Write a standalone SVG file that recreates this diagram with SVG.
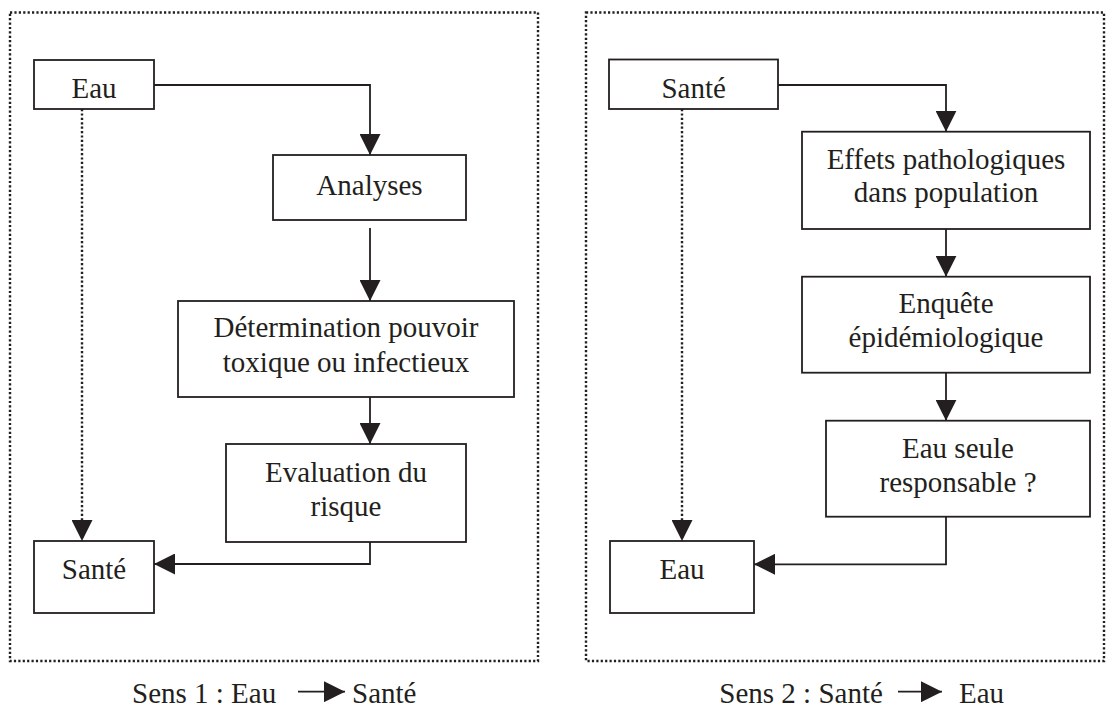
<svg xmlns="http://www.w3.org/2000/svg" width="1106" height="707" viewBox="0 0 1106 707">
<style>
.frame{fill:none;stroke:#231f20;stroke-width:2.4;stroke-dasharray:2.2 2.2}
.box{fill:#fff;stroke:#231f20;stroke-width:1.8}
.t{font-family:"Liberation Serif","Times New Roman",serif;font-size:29px;fill:#231f20;text-anchor:middle}
.tl{font-family:"Liberation Serif","Times New Roman",serif;font-size:29px;fill:#231f20}
.c{fill:none;stroke:#231f20;stroke-width:1.8}
.d{fill:none;stroke:#231f20;stroke-width:2.4;stroke-dasharray:2.2 2.2}
</style>
<defs>
<marker id="ah" markerUnits="userSpaceOnUse" markerWidth="21" markerHeight="21" refX="20" refY="10" orient="auto" viewBox="0 0 20 20">
<path d="M0,0 L20,10 L0,20 z" fill="#231f20"/>
</marker>
</defs>
<g id="frames">
<rect class="frame" x="10" y="12.5" width="528" height="648.5"/>
<rect class="frame" x="586" y="12.5" width="518" height="648.5"/>
</g>
<g id="connectors">
<path class="c" d="M154,85 H370 V155" marker-end="url(#ah)"/>
<path class="c" d="M370,228 V301" marker-end="url(#ah)"/>
<path class="c" d="M370,397 V444" marker-end="url(#ah)"/>
<path class="c" d="M370,542 V564 H154" marker-end="url(#ah)"/>
<path class="d" d="M82,109 V541" marker-end="url(#ah)"/>
<path class="c" d="M778,85 H946 V131.7" marker-end="url(#ah)"/>
<path class="c" d="M946,229 V276.7" marker-end="url(#ah)"/>
<path class="c" d="M946,372.7 V420.7" marker-end="url(#ah)"/>
<path class="c" d="M946,516.7 V564.3 H754" marker-end="url(#ah)"/>
<path class="d" d="M682,109 V541" marker-end="url(#ah)"/>
<path class="c" d="M298,691.7 H345" marker-end="url(#ah)"/>
<path class="c" d="M898,691.7 H942" marker-end="url(#ah)"/>
</g>
<g id="n-eau1"><rect class="box" x="34" y="60" width="120" height="49"/><text class="t" x="94" y="97.5">Eau</text></g>
<g id="n-analyses"><rect class="box" x="273" y="155" width="193" height="65"/><text class="t" x="369.5" y="194.5">Analyses</text></g>
<g id="n-determination"><rect class="box" x="178" y="301" width="336" height="96"/><text class="t" x="346" y="337">Détermination pouvoir</text><text class="t" x="346" y="372">toxique ou infectieux</text></g>
<g id="n-evaluation"><rect class="box" x="226" y="444" width="240" height="98"/><text class="t" x="346" y="482">Evaluation du</text><text class="t" x="346" y="516">risque</text></g>
<g id="n-sante1"><rect class="box" x="34" y="541" width="120" height="72"/><text class="t" x="94" y="579">Santé</text></g>
<g id="n-sante2"><rect class="box" x="609" y="59.5" width="169" height="49.5"/><text class="t" x="693.7" y="98">Santé</text></g>
<g id="n-effets"><rect class="box" x="802" y="131.7" width="288" height="97.3"/><text class="t" x="946" y="169.3">Effets pathologiques</text><text class="t" x="946" y="202.3">dans population</text></g>
<g id="n-enquete"><rect class="box" x="802" y="276.7" width="288" height="96"/><text class="t" x="946" y="313.3">Enquête</text><text class="t" x="946" y="346.7">épidémiologique</text></g>
<g id="n-eauseule"><rect class="box" x="826" y="420.7" width="264" height="96"/><text class="t" x="958" y="458.3">Eau seule</text><text class="t" x="958" y="491.7">responsable ?</text></g>
<g id="n-eau2"><rect class="box" x="610" y="541" width="144" height="72"/><text class="t" x="682" y="579">Eau</text></g>
<g id="captions">
<text class="tl" x="132" y="703">Sens 1 : Eau</text>
<text class="tl" x="352" y="703">Santé</text>
<text class="tl" x="719.3" y="703">Sens 2 : Santé</text>
<text class="tl" x="959" y="703">Eau</text>
</g>
</svg>
